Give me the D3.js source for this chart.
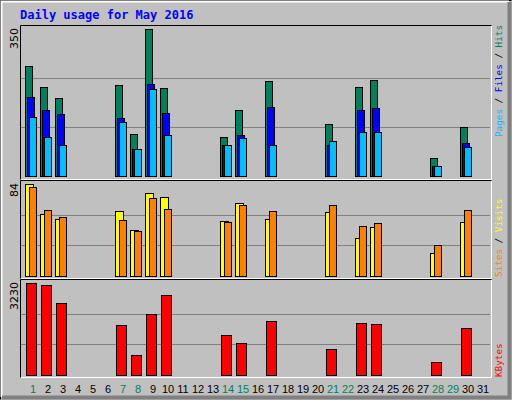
<!DOCTYPE html>
<html><head><meta charset="utf-8">
<script src="https://cdn.jsdelivr.net/npm/d3@7"></script>
<style>body{margin:0;background:#fff}</style>
</head><body><div id="chart"></div>
<script>
var days = d3.range(1, 32)
var weekend = [1, 7, 8, 14, 15, 21, 22, 28, 29]
var activeDays = [1, 2, 3, 7, 8, 9, 10, 14, 15, 17, 21, 23, 24, 28, 30]
var hits   = [261, 211, 185, 216, 99, 350, 209, 94, 156, 226, 125, 211, 228, 44, 116]
var files  = [187, 156, 147, 137, 64, 218, 149, 75, 97, 164, 75, 156, 161, 23, 78]
var pages  = [140, 94, 75, 128, 64, 206, 97, 73, 90, 75, 83, 104, 104, 25, 70]
var visits = [84, 57, 52, 59, 42, 76, 72, 50, 67, 52, 58, 35, 45, 21, 49]
var sites  = [81, 60, 54, 51, 41, 71, 61, 49, 65, 59, 65, 46, 48, 28, 60]
var kbytes = [3220, 3148, 2545, 1763, 699, 2154, 2793, 1408, 1124, 1905, 912, 1834, 1798, 450, 1656]

var width = 512, height = 400

var svg = d3.select("#chart").append("svg")
    .attr("width", width).attr("height", height)
    .style("font-family", "DejaVu Sans Mono")

svg.append("rect").attr("width", width).attr("height", height).attr("fill", "#c0c0c0")
// bevel
svg.append("path").attr("d", "M0.5,399.5 V0.5 H511.5").attr("stroke", "#000").attr("fill", "none")
svg.append("path").attr("d", "M1.5,397 V1.5 H509").attr("stroke", "#fff").attr("stroke-width", 2).attr("fill", "none")
svg.append("path").attr("d", "M2,397.5 H509.5 V2").attr("stroke", "#808080").attr("stroke-width", 4).attr("fill", "none")

svg.append("text").attr("x", 20).attr("y", 19)
    .attr("fill", "#0000ff").attr("font-weight", "bold").attr("font-size", 12)
    .text("Daily usage for May 2016")

var x = d3.scaleLinear().domain([1, 31]).range([25, 475])

var panels = [
    {top: 25, bottom: 180, base: 176, max: 350, label: "350", legendY: 137,
     series: [{v: hits, c: "#00805c", dx: 0, w: 7}, {v: files, c: "#0000ff", dx: 2, w: 7}, {v: pages, c: "#00bfff", dx: 4, w: 7}],
     legend: [["Pages", "#00bfff"], [" / ", "#000"], ["Files", "#0000ff"], [" / ", "#000"], ["Hits", "#00805c"]]},
    {top: 180, bottom: 279, base: 276, max: 84, label: "84", legendY: 277,
     series: [{v: visits, c: "#ffff00", dx: 0, w: 8}, {v: sites, c: "#ff8000", dx: 4, w: 7}],
     legend: [["Sites", "#ff8000"], [" / ", "#000"], ["Visits", "#ffff00"]]},
    {top: 279, bottom: 378, base: 375, max: 3230, label: "3230", legendY: 377,
     series: [{v: kbytes, c: "#ff0000", dx: 1, w: 10}],
     legend: [["KBytes", "#ff0000"]]}
]

panels.forEach(function(p){
    var y = d3.scaleLinear().domain([0, p.max]).range([p.base, p.top + 4])
    var g = svg.append("g")
    var grid = [p.max / 3, 2 * p.max / 3]
    g.selectAll(".grid").data(grid).enter().append("line")
        .attr("x1", 21).attr("x2", 490)
        .attr("y1", function(d){ return Math.round(y(d)) + 0.5 })
        .attr("y2", function(d){ return Math.round(y(d)) + 0.5 })
        .attr("stroke", "#808080")
    g.append("path").attr("d", "M20.5," + (p.bottom - 0.5) + " V" + (p.top + 0.5) + " H491.5")
        .attr("stroke", "#000").attr("fill", "none")
    g.append("path").attr("d", "M21," + (p.bottom - 0.5) + " H491.5 V" + (p.top + 1))
        .attr("stroke", "#fff").attr("fill", "none")

    p.series.forEach(function(s){
        g.selectAll(null).data(activeDays).enter().append("rect")
            .attr("x", function(d){ return Math.round(x(d)) + s.dx + 0.5 })
            .attr("y", function(d, i){ return Math.round(y(s.v[i])) + 0.5 })
            .attr("width", s.w)
            .attr("height", function(d, i){ return p.base - Math.round(y(s.v[i])) })
            .attr("fill", s.c).attr("stroke", "#000")
    })

    svg.append("text")
        .attr("transform", "translate(18," + (p.top + 3) + ") rotate(-90)")
        .attr("text-anchor", "end").attr("font-size", 11)
        .attr("font-family", "DejaVu Sans")
        .text(p.label)

    var t = svg.append("text")
        .attr("transform", "translate(502," + p.legendY + ") rotate(-90)")
        .attr("font-size", 9.3)
    t.selectAll("tspan").data(p.legend).enter().append("tspan")
        .attr("fill", function(d){ return d[1] })
        .text(function(d){ return d[0] })
})

svg.selectAll(".day").data(days).enter().append("text")
    .attr("x", function(d){ return x(d) + 8 })
    .attr("y", 393)
    .attr("text-anchor", "middle")
    .attr("font-size", 11).attr("font-family", "Liberation Sans")
    .attr("fill", function(d){ return weekend.indexOf(d) >= 0 ? "#00805c" : "#000" })
    .text(function(d){ return d })
</script>
</body></html>
